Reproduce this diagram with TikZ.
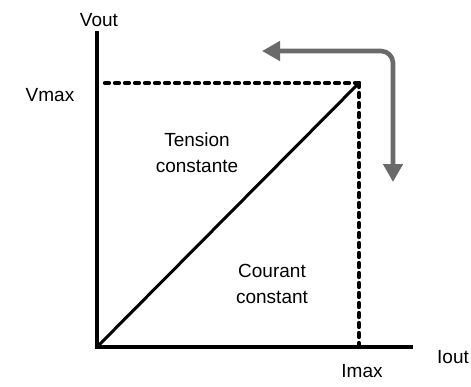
\documentclass[tikz,border=0pt]{standalone}
\usepackage{fontspec}
\setmainfont{Liberation Sans}
\usepackage{xcolor}
\usepackage{tikz}
\usetikzlibrary{arrows.meta,positioning}
\definecolor{ink}{HTML}{000000}
\definecolor{turn}{HTML}{6A6A6A}
\tikzset{
  axis/.style   ={line width=3.6pt,draw=ink},
  limit/.style  ={line width=4.2pt,draw=ink,line cap=round,dash pattern=on 4pt off 6pt},
  curve/.style  ={line width=3pt,draw=ink},
  sweep/.style  ={{Triangle[length=18pt,width=19pt]}-{Triangle[length=18pt,width=19pt]},
                  line width=4.6pt,draw=turn,rounded corners=12pt},
  lbl/.style    ={inner sep=0pt,align=center,font=\fontsize{19}{26}\selectfont}
}
\begin{document}
\begin{tikzpicture}[x=1pt,y=-1pt]
        \useasboundingbox (0,0) rectangle (471,386);
        % axes
        \coordinate (O) at (97,347);
        \coordinate (ytop) at (97,31);
        \coordinate (xend) at (413,347);
        \coordinate (P) at (359,83);
        \coordinate (vm) at (105,83);
        \coordinate (im) at (359,347);
        \draw[axis] (ytop) -- (O) -- (xend);
        \draw[limit] (vm) -- (P);
        \draw[limit] (P) -- (im);
        \draw[curve] (O) -- (P);
        % turning arrow
        \coordinate (gA) at (262,51);
        \coordinate (gB) at (393,51);
        \coordinate (gC) at (393,182);
        \draw[sweep] (gA) -- (gB) -- (gC);
        % labels
        \node[lbl] (vout) at (99,20) {Vout};
        \node[lbl] (vmax) at (50,95) {Vmax};
        \node[lbl] (cv) at (197,153) {Tension\\constante};
        \node[lbl] (cc) at (272,284) {Courant\\constant};
        \node[lbl] (imax) at (362,371) {Imax};
        \node[lbl] (iout) at (453,357) {Iout};
      \end{tikzpicture}
\end{document}
